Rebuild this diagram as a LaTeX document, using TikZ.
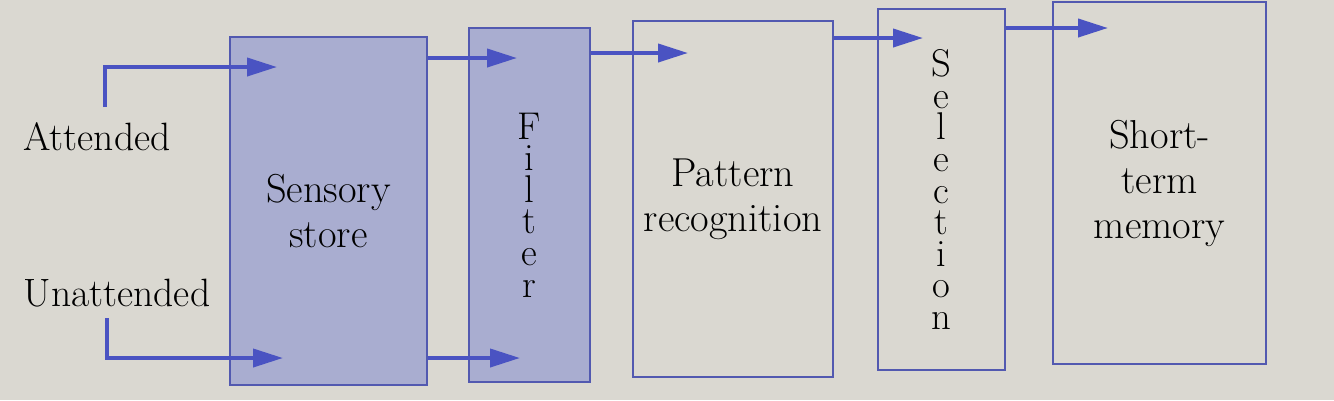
\documentclass[tikz,border=0pt]{standalone}
\usepackage{tikz}
\usetikzlibrary{arrows.meta}
\definecolor{paper}{HTML}{DAD8D1}
\definecolor{storeblue}{HTML}{A9ADD0}
\definecolor{edgeblue}{HTML}{5259B0}
\definecolor{flowblue}{HTML}{4A53C2}
\tikzset{
  stagebox/.style={draw=edgeblue,line width=0.9pt,inner sep=0pt,align=center,
    font=\fontsize{23}{25.6}\selectfont},
  shadedbox/.style={stagebox,fill=storeblue},
  spelled/.style={font=\fontsize{22}{18}\selectfont},
  flow/.style={-{Triangle[length=0.6cm,width=0.36cm]},line width=2.2pt,draw=flowblue},
  inlabel/.style={font=\fontsize{22.5}{25.6}\selectfont}
}

\begin{document}
\begin{tikzpicture}[x=0.02cm,y=-0.02cm]
\fill[paper] (0,0) rectangle (1334,400);
\path[use as bounding box] (0,0) rectangle (1334,400);

% the stages, left to right
\node[shadedbox,minimum width=3.94cm,minimum height=6.96cm] (sens) at (328.5,211)
  {Sensory\\store};
\node[shadedbox,spelled,minimum width=2.42cm,minimum height=7.08cm] (filt) at (529.5,205)
  {F\\i\\l\\t\\e\\r};
\node[stagebox,minimum width=4.0cm,minimum height=7.12cm] (patt) at (733,199)
  {Pattern\\recognition};
\node[stagebox,spelled,minimum width=2.54cm,minimum height=7.22cm] (sel) at (941.5,189.5)
  {S\\e\\l\\e\\c\\t\\i\\o\\n};
\node[stagebox,minimum width=4.26cm,minimum height=7.24cm] (stm) at (1159.5,183)
  {Short-\\term\\memory};

% the two input channels
\node[inlabel] (att) at (97,137) {Attended};
\node[inlabel] (unatt) at (117,293) {Unattended};

\coordinate (attfoot) at (105,107);
\coordinate (attin) at (277,67);
\coordinate (unattfoot) at (107,318);
\coordinate (unattin) at (283,358);
\coordinate (filtin1) at (517,58);
\coordinate (filtin2) at (520,358);
\coordinate (pattin) at (688,53);
\coordinate (selin) at (923,38);
\coordinate (stmin) at (1108,28);

\draw[flow] (attfoot) |- (attin);
\draw[flow] (unattfoot) |- (unattin);
\draw[flow] (sens.east |- filtin1) -- (filtin1);
\draw[flow] (sens.east |- filtin2) -- (filtin2);
\draw[flow] (filt.east |- pattin) -- (pattin);
\draw[flow] (patt.east |- selin) -- (selin);
\draw[flow] (sel.east |- stmin) -- (stmin);
\end{tikzpicture}
\end{document}
